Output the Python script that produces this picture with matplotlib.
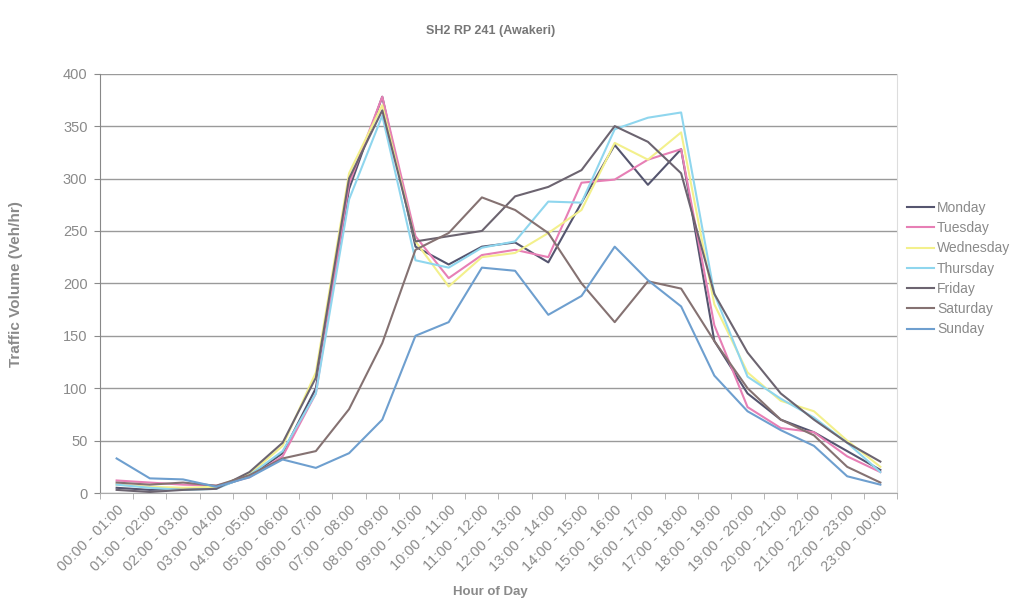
import matplotlib
matplotlib.use("Agg")
import matplotlib.pyplot as plt

hours = ["00:00 - 01:00", "01:00 - 02:00", "02:00 - 03:00", "03:00 - 04:00",
         "04:00 - 05:00", "05:00 - 06:00", "06:00 - 07:00", "07:00 - 08:00",
         "08:00 - 09:00", "09:00 - 10:00", "10:00 - 11:00", "11:00 - 12:00",
         "12:00 - 13:00", "13:00 - 14:00", "14:00 - 15:00", "15:00 - 16:00",
         "16:00 - 17:00", "17:00 - 18:00", "18:00 - 19:00", "19:00 - 20:00",
         "20:00 - 21:00", "21:00 - 22:00", "22:00 - 23:00", "23:00 - 00:00"]

monday    = [5, 3, 4, 5, 16, 38, 100, 290, 378, 235, 218, 235, 239, 220, 277, 332, 294, 328, 145, 95, 70, 58, 40, 22]
tuesday   = [12, 10, 8, 7, 15, 35, 95, 295, 378, 245, 205, 227, 232, 225, 296, 299, 318, 328, 160, 82, 62, 58, 35, 20]
wednesday = [8, 6, 5, 6, 18, 45, 115, 305, 370, 240, 197, 225, 229, 248, 270, 334, 318, 344, 180, 115, 88, 78, 50, 25]
thursday  = [8, 5, 3, 4, 17, 40, 95, 280, 360, 222, 215, 234, 240, 278, 277, 347, 358, 363, 190, 111, 90, 72, 48, 20]
friday    = [3, 1, 3, 4, 20, 48, 110, 300, 365, 240, 245, 250, 283, 292, 308, 350, 335, 305, 190, 134, 95, 70, 48, 30]
saturday  = [10, 8, 10, 7, 17, 33, 40, 80, 143, 232, 248, 282, 270, 248, 200, 163, 202, 195, 145, 100, 70, 55, 25, 10]
sunday    = [33, 14, 13, 6, 15, 32, 24, 38, 70, 150, 163, 215, 212, 170, 188, 235, 203, 178, 112, 78, 60, 45, 16, 8]

series = [("Monday", monday, "#55556f"),
          ("Tuesday", tuesday, "#e77fb5"),
          ("Wednesday", wednesday, "#f3f08c"),
          ("Thursday", thursday, "#8fd6ee"),
          ("Friday", friday, "#6c6470"),
          ("Saturday", saturday, "#857272"),
          ("Sunday", sunday, "#6e9fcf")]

plt.rcParams['font.family'] = ['Liberation Sans', 'DejaVu Sans']
txt = "#8a8a8a"

fig = plt.figure(figsize=(10.31, 6.14), dpi=100)
ax = fig.add_axes([0.097, 0.197, 0.773, 0.683])

x = list(range(len(hours)))
for name, vals, col in series:
    ax.plot(x, vals, color=col, lw=1.5, label=name)

ax.set_xlim(-0.5, len(hours) - 0.5)
ax.set_ylim(0, 400)
ax.set_yticks(range(0, 401, 50))
ax.yaxis.grid(True, color="#9a9a9a", lw=1.0)
ax.set_axisbelow(True)

ax.set_xticks(x)
ax.set_xticklabels(hours, rotation=45, ha="right", rotation_mode="anchor",
                   fontsize=10.5, color=txt)
ax.set_xticks([i - 0.5 for i in range(len(hours) + 1)], minor=True)
ax.tick_params(axis="x", which="major", length=0, pad=7)
ax.tick_params(axis="x", which="minor", length=4, color="#aaaaaa")
ax.tick_params(axis="y", labelsize=10.5, colors=txt, length=4, pad=5)
for lab in ax.get_yticklabels():
    lab.set_color(txt)

ax.spines["top"].set_visible(False)
ax.spines["right"].set_color("#dddddd")
ax.spines["left"].set_color("#888888")
ax.spines["bottom"].set_color("#aaaaaa")

fig.text(0.016, 0.538, "Traffic Volume (Veh/hr)", rotation=90, ha="center", va="center",
         fontsize=11, fontweight="bold", color=txt)
fig.text(0.476, 0.036, "Hour of Day", ha="center", va="center",
         fontsize=9.5, fontweight="bold", color=txt)
fig.text(0.476, 0.950, "SH2 RP 241 (Awakeri)", ha="center", va="center",
         fontsize=9, fontweight="bold", color="#777777")

leg = ax.legend(loc="center left", bbox_to_anchor=(1.0, 0.535), frameon=False,
                fontsize=10, handlelength=2.0, handletextpad=0.2, labelspacing=0.45,
                borderaxespad=0.3)
for t in leg.get_texts():
    t.set_color(txt)

fig.savefig("out.png", dpi=100, facecolor="white")
